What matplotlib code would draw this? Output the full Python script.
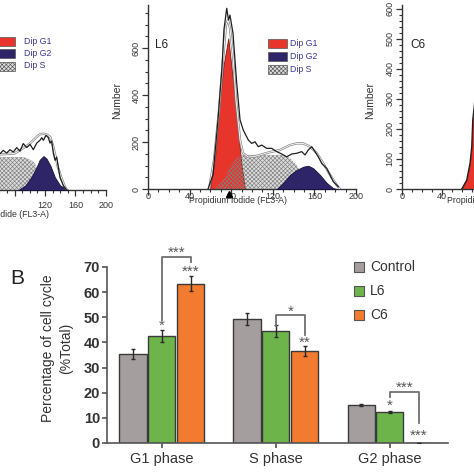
import numpy as np
import matplotlib
matplotlib.use('Agg')
import matplotlib.pyplot as plt
from matplotlib.patches import Rectangle
from matplotlib.ticker import MultipleLocator

plt.rcParams['font.family'] = ['Liberation Sans', 'DejaVu Sans']
plt.rcParams['hatch.linewidth'] = 0.45

# ---------------- data: flow cytometry histograms ----------------
# Control panel (only its right part is visible)
ctl_raw_x = [55, 60.8, 65.1, 69.6, 73.9, 78.3, 82.7, 87.1, 91.4, 95.9, 100.3, 104.6, 109.1, 113.4,
             115.7, 117.8, 121.3, 124.4, 126.6, 128.8, 130.9, 133.2, 135.4, 137.5, 139.7, 144.1, 148.6]
ctl_raw_y = [150, 154, 168, 157, 171, 161, 180, 165, 197, 180, 194, 171, 199, 211,
             222, 211, 232, 222, 199, 208, 157, 126, 140, 97, 54, 19, 0]
ctl_fit_x = [55, 80, 95, 102, 109, 113, 118, 122, 127, 131, 137, 142, 146, 149]
ctl_fit_y = [150, 155, 185, 203, 225, 236, 239, 236, 225, 182, 97, 48, 15, 0]
ctl_s_x = [55, 91, 98, 105, 111, 118, 124, 129]
ctl_s_y = [140, 140, 133, 118, 90, 54, 19, 0]
ctl_g2_x = [85, 94, 102, 109, 113, 118, 122, 127, 133, 140, 151]
ctl_g2_y = [0, 19, 54, 97, 128, 144, 133, 104, 54, 19, 0]
ctl_xticklabels = ['', '', '', '120', '160', '200']

# L6 panel
l6_g1_x = [59.6, 64.4, 69.2, 72.4, 77.2, 82.0, 86.8, 90.1, 93.3]
l6_g1_y = [0, 136, 379, 520, 641, 450, 238, 95, 0]
l6_raw_x = [57.7, 62.5, 67.3, 71.2, 73.0, 75.7, 77.4, 78.8, 81.7, 85.3, 88.5, 91.6, 96.4, 99.7,
            102.9, 106, 109.3, 114.1, 118.9, 123.8, 128.6, 133.4, 138.2, 143, 147.8, 151, 154.1,
            157.4, 160.6, 163.8, 167, 171.8, 175, 178.2, 183]
l6_raw_y = [0, 60, 294, 520, 677, 769, 719, 740, 664, 451, 294, 251, 209, 194,
            201, 180, 187, 173, 173, 159, 149, 137, 149, 152, 159, 145, 166,
            180, 159, 137, 109, 88, 60, 31, 10]
l6_fit_x = [58.7, 63.5, 68.3, 72.1, 75, 76.9, 78.8, 81.7, 84.6, 88.5, 91.3, 96.2, 102, 107.7,
            117.3, 126.9, 136.5, 143, 149.3, 155.8, 162.2, 168.3, 175, 181.4, 184.6]
l6_fit_y = [0, 123, 336, 549, 698, 719, 685, 570, 379, 209, 153, 136, 138, 145,
            157, 166, 187, 194, 194, 180, 153, 111, 60, 17, 0]
l6_s_x = [64.4, 74, 78.8, 85.3, 91.3, 117.3, 129.8, 136.5, 143, 147.8, 152.6, 155]
l6_s_y = [0, 47, 95, 132, 145, 145, 145, 132, 102, 60, 17, 0]
l6_g2_x = [123.8, 129.8, 136.5, 143, 149.3, 154.1, 158.7, 165.4, 171.8, 177.9, 181.4]
l6_g2_y = [0, 26, 60, 81, 95, 99, 89, 60, 26, 4, 0]
l6_gate = 78

# C6 panel (only the rising edge of G1 is visible)
c6_g1_x = [59.7, 64.7, 68, 69.7, 70.7, 72, 75]
c6_g1_y = [0, 30, 86, 141, 230, 269, 380]

# ---------------- data: bar chart ----------------
phases = ['G1 phase', 'S phase', 'G2 phase']
groups = ['Control', 'L6', 'C6']
control = [35.4, 49.3, 15.2]
control_err = [1.8, 2.4, 0.4]
l6 = [42.5, 44.6, 12.4]
l6_err = [2.3, 2.4, 0.5]
c6 = [63.4, 36.5, 0.0]
c6_err = [3.1, 2.0, 0.0]

# (phase, bar index, y, label)
single_stars = [(0, 1, 47.5, '*'), (0, 2, 69.1, '***'), (1, 2, 41.0, '**'),
                (2, 1, 15.9, '*'), (2, 2, 4.0, '***')]
# (phase, left bar, right bar, top, left end, right end, label y, label)
brackets = [(0, 1, 2, 74.1, 48.9, 72.1, 76.6, '***'),
            (1, 1, 2, 50.9, 46.5, 43.0, 53.3, '*'),
            (2, 1, 2, 20.4, 18.4, 7.8, 23.0, '***')]

RED = '#e8352b'
NAVY = '#2e2568'
S_FACE = '#dcdcdc'
HATCH = '#808080'
LEG_TXT = '#3b3596'
bar_cols = ['#a59e9e', '#6db44b', '#f27b30']

W = H = 474
fig = plt.figure(figsize=(4.74, 4.74), dpi=100)


def px_axes(left, top, right, bottom):
    return fig.add_axes([left / W, 1 - bottom / H, (right - left) / W, (bottom - top) / H])


def fx(x):
    return x / W


def fy(y):
    return 1 - y / H


def style_hist(ax, ymax, ymaj, ymin, xpad):
    ax.set_xlim(0, 200)
    ax.set_ylim(0, ymax)
    for s in ['top', 'right']:
        ax.spines[s].set_visible(False)
    for s in ['left', 'bottom']:
        ax.spines[s].set_color('#333333')
        ax.spines[s].set_linewidth(1.0)
    ax.xaxis.set_major_locator(MultipleLocator(40))
    ax.xaxis.set_minor_locator(MultipleLocator(10))
    ax.yaxis.set_major_locator(MultipleLocator(ymaj))
    ax.yaxis.set_minor_locator(MultipleLocator(ymin))
    ax.tick_params(which='major', length=4, width=0.9, color='#333333', labelsize=6.5,
                   labelcolor='#333333')
    ax.tick_params(which='minor', length=2.5, width=0.8, color='#333333')
    ax.tick_params(axis='x', pad=xpad)
    ax.tick_params(axis='y', pad=1.5)
    for lab in ax.get_yticklabels():
        lab.set_rotation(90)
        lab.set_va('center')
    ax.set_facecolor('none')


def draw_hist(ax, s=None, g1=None, g2=None, fit=None, raw=None):
    if s is not None:
        ax.fill_between(s[0], s[1], facecolor=S_FACE, lw=0, zorder=1)
    if g1 is not None:
        ax.fill_between(g1[0], g1[1], facecolor=RED, edgecolor='#7a1a12', lw=0.6, zorder=2)
    if s is not None:
        ax.fill_between(s[0], s[1], facecolor='none', edgecolor=HATCH, hatch='xxxxxxxx', lw=0, zorder=3)
    if g2 is not None:
        ax.fill_between(g2[0], g2[1], facecolor=NAVY, edgecolor='#17113a', lw=0.6, zorder=4)
    if fit is not None:
        ax.plot(fit[0], fit[1], color='#8a8a8a', lw=1.7, zorder=5, solid_joinstyle='round')
        ax.plot(fit[0], fit[1], color='white', lw=0.6, zorder=6)
    if raw is not None:
        ax.plot(raw[0], raw[1], color='#1e1e1e', lw=0.9, zorder=7)


# ---- panel 1: Control ----
ax1 = px_axes(-46.2, 5, 105.8, 190)
draw_hist(ax1, s=(ctl_s_x, ctl_s_y), g2=(ctl_g2_x, ctl_g2_y),
          fit=(ctl_fit_x, ctl_fit_y), raw=(ctl_raw_x, ctl_raw_y))
style_hist(ax1, 785, 200, 50, 4)
ax1.set_xticks(np.arange(0, 201, 40), ctl_xticklabels)
ax1.tick_params(axis='y', labelleft=False)
ax1.set_xlabel('Propidium Iodide (FL3-A)', fontsize=6.3, color='#333333')
ax1.xaxis.set_label_coords(0.307, -0.11)

# ---- panel 2: L6 ----
ax2 = px_axes(148, 5, 356, 189)
draw_hist(ax2, s=(l6_s_x, l6_s_y), g1=(l6_g1_x, l6_g1_y), g2=(l6_g2_x, l6_g2_y),
          fit=(l6_fit_x, l6_fit_y), raw=(l6_raw_x, l6_raw_y))
style_hist(ax2, 783, 200, 50, -1.5)
ax2.plot([l6_gate], [-20], marker='^', color='black', ms=4, clip_on=False, zorder=8)
ax2.set_xlabel('Propidium Iodide (FL3-A)', fontsize=6.3, color='#333333')
ax2.xaxis.set_label_coords(0.433, -0.04)
ax2.set_ylabel('Number', fontsize=7.5, color='#333333')
ax2.yaxis.set_label_coords(-0.125, 0.48)

# ---- panel 3: C6 ----
ax3 = px_axes(402, 5, 602, 189)
draw_hist(ax3, g1=(c6_g1_x, c6_g1_y), raw=(c6_g1_x, c6_g1_y))
style_hist(ax3, 613, 100, 20, -1.5)
ax3.set_xlabel('Propidium Iodide (FL3-A)', fontsize=6.3, color='#333333')
ax3.xaxis.set_label_coords(0.47, -0.04)
ax3.set_ylabel('Number', fontsize=7.5, color='#333333')
ax3.yaxis.set_label_coords(-0.135, 0.48)

fig.text(fx(155), fy(45), 'L6', fontsize=8.5, va='center', color='#222222')
fig.text(fx(410), fy(45), 'C6', fontsize=8.5, va='center', color='#222222')

# legends of histogram panels
leg_names = ['Dip G1', 'Dip G2', 'Dip S']
leg_faces = [RED, NAVY, S_FACE]
for (px0, px1, tx, ys) in [(-5, 15, 24, [41, 53.5, 66]), (268, 287, 290, [43, 56.5, 69.5])]:
    for name, fc, yc in zip(leg_names, leg_faces, ys):
        r = Rectangle((fx(px0), fy(yc + 4.5)), (px1 - px0) / W, 9 / H, transform=fig.transFigure,
                      facecolor=fc, edgecolor='#555555', lw=0.5,
                      hatch='xxxxxxxx' if name == 'Dip S' else None)
        fig.add_artist(r)
        fig.text(fx(tx), fy(yc), name, fontsize=6.3, color=LEG_TXT, va='center')

# ---------------- panel B: bar chart ----------------
axB = px_axes(107, 267, 448, 443)
x = np.arange(len(phases))
off = 0.254
bw = 0.237
series = [(control, control_err), (l6, l6_err), (c6, c6_err)]
for i, ((vals, errs), col) in enumerate(zip(series, bar_cols)):
    pos = x + (i - 1) * off
    axB.bar(pos, vals, bw, color=col, edgecolor='#3a3a3a', lw=1.0, zorder=2)
    axB.errorbar(pos, vals, yerr=errs, fmt='none', ecolor='#2a2a2a', elinewidth=1.0,
                 capsize=1.2, capthick=1.0, zorder=3)

axB.set_xlim(-0.482, 2.509)
axB.set_ylim(0, 70)
axB.set_yticks(np.arange(0, 71, 10))
axB.set_xticks(x)
axB.set_xticklabels(phases, fontsize=10.5, color='#333333')
for s in ['top', 'right']:
    axB.spines[s].set_visible(False)
for s in ['left', 'bottom']:
    axB.spines[s].set_color('#555555')
    axB.spines[s].set_linewidth(1.2)
axB.tick_params(axis='y', length=3.6, width=1.2, color='#555555', labelsize=10.5, pad=1.5,
                labelcolor='#333333')
axB.tick_params(axis='x', length=3.6, width=1.2, color='#555555', pad=3)
for lab in axB.get_yticklabels():
    lab.set_fontweight('bold')

for ph, bi, yv, lab in single_stars:
    axB.annotate(lab, xy=(ph + (bi - 1) * off, yv), xytext=(0, -4.6), textcoords='offset points',
                 ha='center', va='baseline', fontsize=11, color='#555555', annotation_clip=False)
for ph, b1, b2, top, e1, e2, ly, lab in brackets:
    xl = ph + (b1 - 1) * off
    xr = ph + (b2 - 1) * off
    axB.plot([xl, xl, xr, xr], [e1, top, top, e2], color='#707070', lw=1.3, clip_on=False, zorder=4)
    axB.annotate(lab, xy=((xl + xr) / 2, ly), xytext=(0, -4.6), textcoords='offset points',
                 ha='center', va='baseline', fontsize=11, color='#555555', annotation_clip=False)

fig.text(fx(57), fy(348.5), 'Percentage of cell cycle\n(%Total)', rotation=90, ha='center',
         va='center', fontsize=10, linespacing=1.4, multialignment='center', color='#333333')
fig.text(fx(17), fy(278), 'B', fontsize=15, ha='center', va='center', color='#222222')

# legend of the bar chart
for name, col, yc in zip(groups, bar_cols, [267, 291, 315]):
    r = Rectangle((fx(354), fy(yc + 5)), 10 / W, 10 / H, transform=fig.transFigure,
                  facecolor=col, edgecolor='#555555', lw=0.8)
    fig.add_artist(r)
    fig.text(fx(370), fy(yc), name, fontsize=10, va='center', color='#333333')

fig.savefig('out.png', dpi=100)
